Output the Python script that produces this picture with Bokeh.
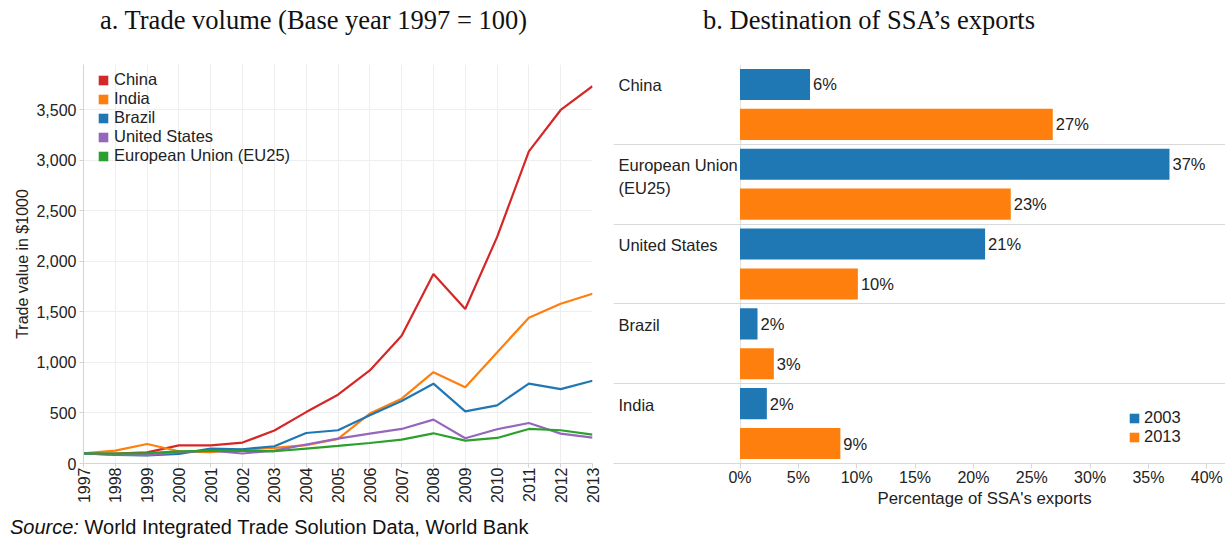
import numpy as np
from bokeh.plotting import figure
from bokeh.models import (ColumnDataSource, Range1d, FixedTicker, Legend, LegendItem,
                          Title, Div, NumeralTickFormatter, PrintfTickFormatter)
from bokeh.layouts import row, column
from bokeh.embed import file_html
from bokeh.resources import INLINE
from bokeh.core.properties import value

# ---------------- data: panel a ----------------
years = list(range(1997, 2014))
china = [100, 98, 110, 180, 180, 207, 326, 509, 681, 921, 1265, 1876, 1530, 2241, 3090, 3500, 3735]
india = [100, 128, 193, 121, 112, 138, 154, 181, 243, 494, 642, 904, 756, 1099, 1444, 1582, 1681]
brazil = [100, 85, 79, 95, 148, 141, 171, 302, 329, 477, 618, 790, 516, 576, 790, 736, 819]
usa = [100, 87, 82, 112, 126, 99, 128, 188, 247, 296, 342, 434, 250, 339, 401, 296, 257]
eu25 = [100, 97, 102, 121, 124, 126, 121, 148, 174, 203, 237, 299, 227, 253, 342, 329, 286]
series_names = ["China", "India", "Brazil", "United States", "European Union (EU25)"]
series_values = [china, india, brazil, usa, eu25]
series_colors = ["#d62728", "#ff7f0e", "#1f77b4", "#9467bd", "#2ca02c"]
y_ticks = [0, 500, 1000, 1500, 2000, 2500, 3000, 3500]

# ---------------- data: panel b ----------------
categories = ["China", "European Union\n(EU25)", "United States", "Brazil", "India"]
share_2003 = [6.0, 36.8, 21.0, 1.5, 2.3]
share_2013 = [26.8, 23.2, 10.1, 2.9, 8.6]
pct_ticks = [0, 5, 10, 15, 20, 25, 30, 35, 40]

title_a = "a. Trade volume (Base year 1997 = 100)"
title_b = "b. Destination of SSA\u2019s exports"

SANS = "Liberation Sans"
SERIF = "Liberation Serif"
TXT = "#222222"
AX = "#d4d4d4"
GRID = "#eeeeee"

# ================= titles =================
titles = Div(
    text=(f'<div style="position:relative;width:1225px;height:40px;'
          f'font-family:\'{SERIF}\';font-size:26.5px;color:#111111;line-height:40px;">'
          f'<span style="position:absolute;left:100px;top:0px;white-space:nowrap;">{title_a}</span>'
          f'<span style="position:absolute;left:703px;top:0px;white-space:nowrap;">{title_b}</span>'
          f'</div>'),
    width=1225, height=40, margin=0)

# ================= panel a =================
p1 = figure(width=600, height=472, x_range=Range1d(1997, 2013), y_range=Range1d(0, 3950),
            output_backend="svg", toolbar_location=None,
            min_border_left=83, min_border_right=8, min_border_top=23, min_border_bottom=49)
p1.outline_line_color = None

for vals, col in zip(series_values, series_colors):
    p1.line(years, vals, line_color=col, line_width=2.2)

# legend swatches: one quad renderer (no visible geometry), one legend entry per series row
sw_src = ColumnDataSource(dict(name=series_names, color=series_colors,
                               nan=[np.nan] * len(series_names)))
sw = p1.quad(left="nan", right="nan", top="nan", bottom="nan", source=sw_src,
             fill_color="color", line_color=None)
items = [LegendItem(label=nm, renderers=[sw], index=i) for i, nm in enumerate(series_names)]
leg1 = Legend(items=items, location=(14, 298), padding=0, margin=0, spacing=0,
              glyph_width=12, glyph_height=12, label_height=16, label_standoff=5,
              label_text_font=SANS, label_text_font_size="16.5px", label_text_color=TXT,
              background_fill_alpha=0, border_line_color=None)
p1.add_layout(leg1)

p1.xaxis.ticker = FixedTicker(ticks=years)
p1.xaxis.major_label_orientation = np.pi / 2
p1.yaxis.ticker = FixedTicker(ticks=y_ticks)
p1.yaxis.formatter = NumeralTickFormatter(format="0,0")
p1.yaxis.axis_label = "Trade value in $1000"
p1.yaxis.axis_label_standoff = 2
p1.yaxis.axis_label_text_font = SANS
p1.yaxis.axis_label_text_font_size = "16px"
p1.yaxis.axis_label_text_font_style = "normal"
p1.yaxis.axis_label_text_color = TXT
for ax in (p1.xaxis, p1.yaxis):
    ax.axis_line_color = AX
    ax.major_tick_line_color = AX
    ax.major_tick_out = 4
    ax.major_tick_in = 0
    ax.minor_tick_line_color = None
    ax.major_label_text_font = SANS
    ax.major_label_text_font_size = "16px"
    ax.major_label_text_color = TXT
p1.yaxis.major_label_standoff = 3
p1.xaxis.major_label_standoff = 0
p1.xgrid.grid_line_color = GRID
p1.ygrid.grid_line_color = GRID

# ================= panel b =================
n = len(categories)
idx = np.arange(n)
src = ColumnDataSource(dict(
    cat=categories, y03=idx + 0.25, y13=idx + 0.75,
    v03=share_2003, v13=share_2013,
    t03=[f"{round(v)}%" for v in share_2003],
    t13=[f"{round(v)}%" for v in share_2013],
))

p2 = figure(width=625, height=472, x_range=Range1d(-10.84, 41.6), y_range=Range1d(n, 0),
            output_backend="svg", toolbar_location=None,
            min_border_left=13, min_border_right=0, min_border_top=24, min_border_bottom=49)
p2.outline_line_color = None
p2.yaxis.visible = False
p2.ygrid.ticker = FixedTicker(ticks=list(range(n + 1)))
p2.ygrid.grid_line_color = "#d9d9d9"
p2.xgrid.ticker = FixedTicker(ticks=[0])
p2.xgrid.grid_line_color = "#e2e2e2"

r03 = p2.hbar(y="y03", left=0, right="v03", height=0.39, source=src,
              fill_color="#1f77b4", line_color=None)
r13 = p2.hbar(y="y13", left=0, right="v13", height=0.39, source=src,
              fill_color="#ff7f0e", line_color=None)

p2.text(x="v03", y="y03", text="t03", source=src, x_offset=3, text_align="left",
        text_baseline="middle", text_font=value(SANS), text_font_size="16.5px", text_color=TXT)
p2.text(x="v13", y="y13", text="t13", source=src, x_offset=3, text_align="left",
        text_baseline="middle", text_font=value(SANS), text_font_size="16.5px", text_color=TXT)
p2.text(x=p2.x_range.start, y="y03", text="cat", source=src, x_offset=5, y_offset=-8,
        text_align="left", text_baseline="top", text_line_height=1.25,
        text_font=value(SANS), text_font_size="16.5px", text_color=TXT)

leg2 = Legend(items=[LegendItem(label="2003", renderers=[r03]),
                     LegendItem(label="2013", renderers=[r13])],
              location=(515, 17), padding=0, margin=0, spacing=0,
              glyph_width=12, glyph_height=12, label_height=16, label_standoff=4,
              label_text_font=SANS, label_text_font_size="16.5px", label_text_color=TXT,
              background_fill_alpha=0, border_line_color=None)
p2.add_layout(leg2)

p2.xaxis.ticker = FixedTicker(ticks=pct_ticks)
p2.xaxis.formatter = PrintfTickFormatter(format="%d%%")
p2.xaxis.axis_line_color = "#d9d9d9"
p2.xaxis.major_tick_line_color = "#d9d9d9"
p2.xaxis.major_tick_out = 5
p2.xaxis.major_tick_in = 0
p2.xaxis.minor_tick_line_color = None
p2.xaxis.major_label_text_font = SANS
p2.xaxis.major_label_text_font_size = "16px"
p2.xaxis.major_label_text_color = TXT
p2.xaxis.major_label_standoff = 0
p2.add_layout(Title(text="Percentage of SSA's exports", align="left", offset=264, standoff=0,
                    vertical_align="top",
                    text_font=SANS, text_font_size="16.8px", text_font_style="normal",
                    text_color=TXT), "below")

source_note = Div(
    text=(f'<div style="font-family:\'{SANS}\';font-size:20px;color:#111111;'
          f'line-height:20px;padding-left:10px;padding-top:5px;white-space:nowrap;">'
          f'<i>Source:</i> World Integrated Trade Solution Data, World Bank</div>'),
    width=700, height=27, margin=0)

layout = column(titles, row(p1, p2), source_note)
open("out.html", "w").write(file_html(layout, INLINE))
